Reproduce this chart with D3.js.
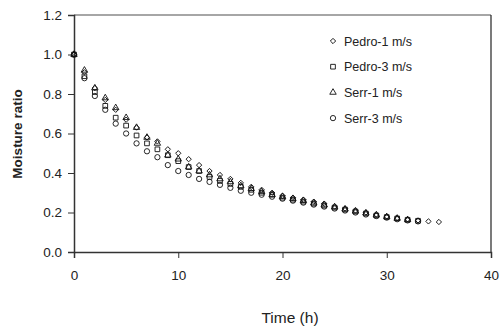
<!DOCTYPE html>
<html>
<head>
<meta charset="utf-8">
<script src="https://cdn.jsdelivr.net/npm/d3@7"></script>
<style>
  body { margin: 0; background: #fff; }
  text { font-family: "Liberation Sans", Arial, sans-serif; fill: #222; }
</style>
</head>
<body>
<div class="chart"></div>
<script>
// === Data ===
const seriesNames = ["Pedro-1 m/s", "Pedro-3 m/s", "Serr-1 m/s", "Serr-3 m/s"];
const pedro1 = [1.0, 0.91, 0.83, 0.77, 0.72, 0.67, 0.63, 0.58, 0.56, 0.52, 0.50, 0.47, 0.44, 0.41, 0.39, 0.37, 0.35, 0.33, 0.315, 0.30, 0.285, 0.275, 0.265, 0.255, 0.245, 0.23, 0.22, 0.21, 0.20, 0.19, 0.18, 0.172, 0.166, 0.16, 0.155, 0.152];
const pedro3 = [1.0, 0.89, 0.81, 0.74, 0.68, 0.64, 0.59, 0.55, 0.52, 0.49, 0.46, 0.43, 0.41, 0.38, 0.36, 0.345, 0.33, 0.315, 0.30, 0.29, 0.275, 0.265, 0.255, 0.245, 0.235, 0.225, 0.215, 0.205, 0.195, 0.185, 0.177, 0.17, 0.163, 0.158];
const serr1 = [1.0, 0.92, 0.83, 0.78, 0.73, 0.68, 0.63, 0.58, 0.55, 0.49, 0.47, 0.43, 0.41, 0.39, 0.37, 0.355, 0.335, 0.32, 0.305, 0.29, 0.28, 0.27, 0.26, 0.248, 0.238, 0.228, 0.217, 0.207, 0.197, 0.187, 0.178, 0.17, 0.163];
const serr3 = [1.0, 0.88, 0.79, 0.72, 0.65, 0.60, 0.55, 0.51, 0.48, 0.44, 0.41, 0.39, 0.37, 0.355, 0.34, 0.325, 0.31, 0.30, 0.29, 0.28, 0.27, 0.26, 0.25, 0.24, 0.23, 0.22, 0.21, 0.20, 0.19, 0.182, 0.174, 0.166, 0.16, 0.155];
// diamond = square turned 45deg (Excel style)
const symbols = [d3.symbolSquare, d3.symbolSquare, d3.symbolTriangle, d3.symbolCircle];
const symbolSizes = [14, 22, 18, 22];
const symbolRotate = [45, 0, 0, 0];
const xTicks = [0, 10, 20, 30, 40];
const yTicks = [0, 0.2, 0.4, 0.6, 0.8, 1.0, 1.2];

// === Margin Convention ===
const W = 501, H = 334;
const margin = {top: 15, right: 10, bottom: 82, left: 74};
const width = 491 - margin.left,
      height = 252 - margin.top;

const svg = d3.select(".chart").append("svg")
    .attr("width", W)
    .attr("height", H);

const g = svg.append("g")
    .attr("transform", `translate(${margin.left},${margin.top})`);

// === Scales ===
const x = d3.scaleLinear().domain([0, 40]).range([0, width]);
const y = d3.scaleLinear().domain([0, 1.2]).range([height, 0]);

// === Frame (top & right) ===
g.append("line")
    .attr("x1", 0).attr("x2", width).attr("y1", 0).attr("y2", 0)
    .attr("stroke", "#888").attr("stroke-width", 1.5);
g.append("line")
    .attr("x1", width).attr("x2", width).attr("y1", 0).attr("y2", height)
    .attr("stroke", "#222").attr("stroke-width", 1.2);

// === Axes ===
const xAxis = g.append("g")
    .attr("transform", `translate(0,${height})`)
    .call(d3.axisBottom(x).tickValues(xTicks).tickSize(6).tickPadding(12).tickFormat(d3.format("d")));

const yAxis = g.append("g")
    .call(d3.axisLeft(y).tickValues(yTicks).tickSize(6).tickPadding(6).tickFormat(d3.format(".1f")));

[xAxis, yAxis].forEach(a => {
    a.select(".domain").attr("stroke", "#333").attr("stroke-width", 1.5);
    a.selectAll(".tick line").attr("stroke", "#333").attr("stroke-width", 1);
    a.selectAll(".tick text")
        .style("font-family", '"Liberation Sans", Arial, sans-serif')
        .style("font-size", "13.5px")
        .attr("fill", "#222");
});

// === Axis titles ===
svg.append("text")
    .attr("x", 290).attr("y", 323)
    .attr("text-anchor", "middle")
    .style("font-size", "15.5px")
    .text("Time (h)");

svg.append("text")
    .attr("transform", "translate(22,134) rotate(-90)")
    .attr("text-anchor", "middle")
    .style("font-size", "13.5px")
    .style("font-weight", "bold")
    .text("Moisture ratio");

// === Points ===
const allSeries = [pedro1, pedro3, serr1, serr3];
allSeries.forEach((vals, i) => {
    const sym = d3.symbol().type(symbols[i]).size(symbolSizes[i]);
    g.selectAll(".pt" + i)
        .data(vals.map((v, t) => ({t, v})))
        .enter().append("path")
        .attr("class", "pt" + i)
        .attr("d", sym)
        .attr("transform", d => `translate(${x(d.t)},${y(d.v)}) rotate(${symbolRotate[i]})`)
        .attr("fill", "none")
        .attr("stroke", "#111")
        .attr("stroke-width", 0.9);
});

// === Legend ===
const legend = svg.append("g").attr("transform", "translate(333,41)");
seriesNames.forEach((name, i) => {
    const row = legend.append("g").attr("transform", `translate(0,${i * 25.7})`);
    row.append("path")
        .attr("d", d3.symbol().type(symbols[i]).size(symbolSizes[i])())
        .attr("transform", `rotate(${symbolRotate[i]})`)
        .attr("fill", "none").attr("stroke", "#111").attr("stroke-width", 0.9);
    row.append("text")
        .attr("x", 11).attr("y", 4.5)
        .style("font-size", "12.5px")
        .text(name);
});
</script>
</body>
</html>
